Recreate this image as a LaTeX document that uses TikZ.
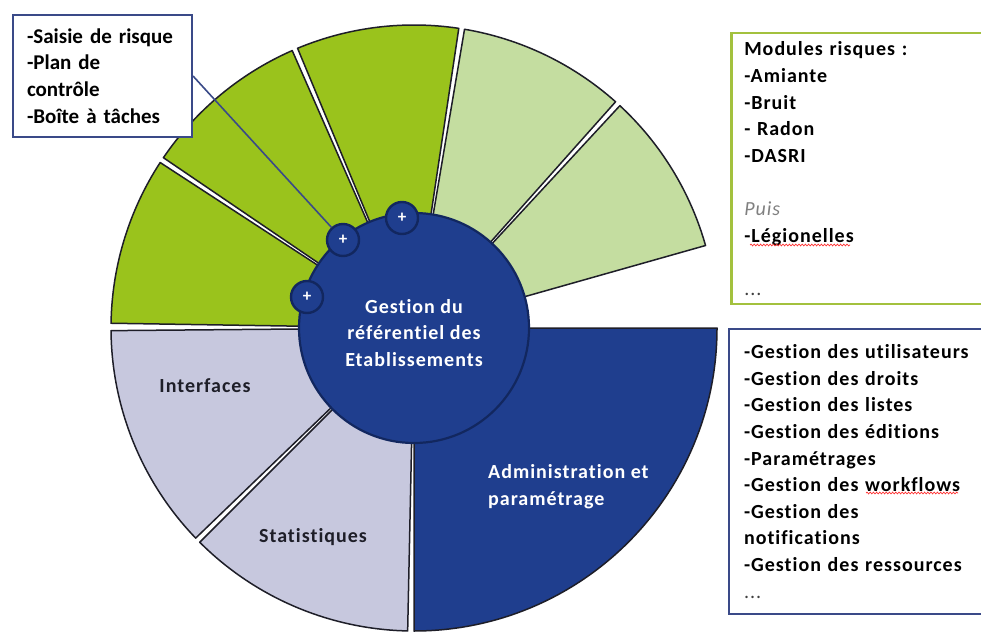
\documentclass[tikz,border=0pt]{standalone}
\usepackage{fontspec}
\setmainfont{Carlito}[Ligatures={NoCommon,NoContextual}]
\newfontfamily\wide{Carlito}[LetterSpace=5,Ligatures={NoCommon,NoContextual}]
\usetikzlibrary{decorations.pathmorphing}
\definecolor{gdark}{HTML}{9AC31C}
\definecolor{glight}{HTML}{C4DDA0}
\definecolor{lav}{HTML}{C7C8DE}
\definecolor{navy}{HTML}{1F3E8E}
\definecolor{navyline}{HTML}{12275F}
\definecolor{boxblue}{HTML}{3A4A88}
\definecolor{boxgreen}{HTML}{A3C13E}
\definecolor{ink}{HTML}{1E1E28}
\newcommand\ringsector[3]{%
  \draw[segline, fill=#1] ([shift={(#2:100pt)}]C) arc[start angle=#2, end angle=#3, radius=100pt]
    -- ([shift={(#3:303pt)}]C) arc[start angle=#3, end angle=#2, radius=303pt] -- cycle;}
\tikzset{
  segline/.style={draw=ink, line width=1.5pt, line join=round},
  hubst/.style={circle, fill=navy, draw=navyline, line width=2.2pt, inner sep=0pt},
  plusst/.style={circle, fill=navy, draw=navyline, line width=2.4pt, inner sep=0pt,
    minimum size=32pt, text=white, font=\bfseries\fontsize{17}{17}\selectfont},
  wtxt/.style={font=\wide\bfseries\fontsize{20}{26.6}\selectfont},
  conn/.style={draw=boxblue, line width=1.6pt},
  spell/.style={draw=red!80!white, line width=0.7pt, decorate,
    decoration={snake, amplitude=0.9pt, segment length=3.2pt}},
}
\begin{document}
\begin{tikzpicture}[x=1pt,y=1pt]
\useasboundingbox (0,0) rectangle (981,635);
\fill[white] (0,0) rectangle (981,635);
\coordinate (C) at (414,307);
% ring sectors
\ringsector{gdark}{146.9}{179.1}
\ringsector{gdark}{113.7}{145.8}
\ringsector{gdark}{81.5}{112.6}
\ringsector{glight}{48.3}{80.4}
\ringsector{glight}{15.8}{47.2}
\ringsector{lav}{180.5}{223.9}
\ringsector{lav}{225.0}{268.8}
\ringsector{navy}{270.0}{360}
% hub
\node[hubst, minimum size=230pt] (hub) at (C) {};
\node[wtxt, text=white, align=center] (hubtxt) at (414,302) {Gestion du\\référentiel des\\Etablissements};
% segment labels
\node[wtxt, text=ink] (interfaces) at (205,249) {Interfaces};
\node[wtxt, text=ink] (stats) at (313,98) {Statistiques};
\node[wtxt, text=white, align=left, anchor=west, inner sep=0pt] (admin) at (488,148.5) {Administration et\\paramétrage};
% top-left box
\node[draw=boxblue, line width=2pt, fill=white, minimum width=179pt, minimum height=122pt,
  text width=151pt, inner xsep=14pt, align=left,
  font=\bfseries\fontsize{21}{26.7}\selectfont] (tl) at (102.5,559)
  {-Saisie de risque\\-Plan de\\contrôle\\-Boîte à tâches};
% plus circles
\node[plusst] (p1) at (307,338) {+};
\node[plusst] (p2) at (343,395) {+};
\node[plusst] (p3) at (402,417) {+};
\draw[conn] (tl.east) -- (p2);
% top-right box
\node[draw=boxgreen, line width=2.5pt, fill=white, minimum width=260pt, minimum height=271pt,
  text width=234pt, inner xsep=13pt, align=left, anchor=north west, wtxt] (tr) at (730,603)
  {Modules risques :\\-Amiante\\-Bruit\\- Radon\\-DASRI\\[26.6pt]{\mdseries\itshape\color{gray}Puis}\\-Légionelles\\[26.6pt]{\mdseries\color{darkgray}...}};
\coordinate (sp1a) at (750,390);
\coordinate (sp1b) at (850,390);
\draw[spell] (sp1a) -- (sp1b);
% bottom-right box
\node[draw=boxblue, line width=2pt, fill=white, minimum width=262pt, minimum height=285pt,
  text width=234pt, inner xsep=15pt, align=left, anchor=north west, wtxt] (br) at (728,307)
  {-Gestion des utilisateurs\\-Gestion des droits\\-Gestion des listes\\-Gestion des éditions\\-Paramétrages\\-Gestion des workflows\\-Gestion des\\notifications\\-Gestion des ressources\\{\mdseries\color{darkgray}...}};
\coordinate (sp2a) at (866,142);
\coordinate (sp2b) at (958,142);
\draw[spell] (sp2a) -- (sp2b);
\end{tikzpicture}
\end{document}
